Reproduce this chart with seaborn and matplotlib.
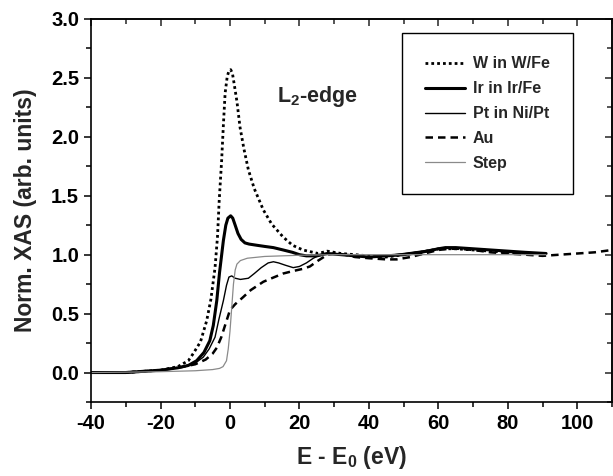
import numpy as np
import pandas as pd
import seaborn as sns
import matplotlib
matplotlib.use("Agg")
import matplotlib.pyplot as plt
from matplotlib.ticker import MultipleLocator

# --- данные ---
W_X = [-40, -30, -25, -20, -15, -12, -10.6, -8.5, -6.7, -5.5, -4.3, -3.6, -3.1, -2.4, -1.9,
       -1.4, -0.8, -0.3, 0.2, 0.7, 1.2, 2, 2.9, 4, 5.3, 7, 9.6, 12, 15.3, 18, 21, 25.4, 28,
       32, 36, 40, 45, 50, 55, 60, 65, 70, 75, 80, 85, 91]
W_Y = [0.0, 0.0, 0.01, 0.02, 0.05, 0.1, 0.16, 0.26, 0.44, 0.62, 0.89, 1.15, 1.46, 1.8, 2.1,
       2.37, 2.51, 2.56, 2.57, 2.54, 2.45, 2.3, 2.08, 1.9, 1.72, 1.56, 1.38, 1.26, 1.15, 1.08,
       1.04, 1.01, 1.03, 1.01, 1.0, 0.99, 0.98, 1.0, 1.02, 1.05, 1.05, 1.04, 1.03, 1.02, 1.01,
       1.01]

IR_X = [-40, -30, -20, -15, -12, -9.6, -7.5, -5.8, -4.8, -3.8, -3, -1.9, -1.2, -0.6, 0.2, 0.8,
        1.5, 2.3, 3.2, 4.3, 5.5, 7.7, 10, 12.5, 15.3, 18, 20, 22, 25, 28, 32, 36, 40, 45, 50,
        55, 60, 62, 65, 70, 75, 80, 85, 91]
IR_Y = [0.0, 0.0, 0.02, 0.04, 0.06, 0.1, 0.17, 0.27, 0.4, 0.61, 0.85, 1.12, 1.25, 1.31, 1.33,
        1.31, 1.25, 1.18, 1.13, 1.1, 1.09, 1.08, 1.07, 1.06, 1.04, 1.02, 1.0, 0.99, 0.99, 1.01,
        1.0, 0.99, 0.98, 0.99, 1.0, 1.02, 1.05, 1.06, 1.06, 1.05, 1.04, 1.03, 1.02, 1.01]

PT_X = [-40, -30, -20, -15, -10, -7.7, -6, -4.3, -3.2, -1.9, -1, -0.3, 0.5, 1.5, 3, 5.3, 7, 9,
        11, 12.5, 14, 16, 18.2, 20, 22, 24, 25.4, 28, 32, 36, 40, 45, 50, 55, 60, 65, 70, 75,
        80, 85, 91]
PT_Y = [0.0, 0.0, 0.02, 0.04, 0.08, 0.13, 0.2, 0.3, 0.45, 0.61, 0.74, 0.81, 0.82, 0.8, 0.79,
        0.8, 0.84, 0.89, 0.93, 0.94, 0.93, 0.91, 0.89, 0.9, 0.93, 0.97, 0.99, 1.01, 1.0, 0.99,
        0.98, 0.99, 1.01, 1.03, 1.05, 1.06, 1.05, 1.04, 1.02, 1.01, 1.01]

AU_X = [-40, -30, -20, -15, -10, -7, -5, -3.8, -2.5, -1.2, 0, 1.5, 3.8, 6, 9.6, 12, 15.3, 18,
        21, 23, 25.4, 27, 28, 30, 33, 36, 40, 45, 48, 52, 56, 60, 63, 66, 70, 75, 80, 85, 90,
        95, 100, 105, 110]
AU_Y = [0.0, 0.0, 0.02, 0.04, 0.07, 0.11, 0.16, 0.21, 0.3, 0.42, 0.53, 0.58, 0.64, 0.7, 0.77,
        0.8, 0.84, 0.86, 0.88, 0.9, 0.95, 0.98, 1.0, 1.01, 1.0, 0.98, 0.97, 0.96, 0.96, 0.98,
        1.01, 1.04, 1.05, 1.05, 1.04, 1.02, 1.01, 1.0, 0.99, 1.0, 1.01, 1.02, 1.04]

STEP_X = [-40, -30, -20, -10, -5, -3, -2, -1, -0.5, 0, 0.5, 1, 1.5, 2, 3, 5, 10, 20, 30, 50,
          70, 91]
STEP_Y = [0.0, 0.003, 0.007, 0.015, 0.025, 0.035, 0.05, 0.1, 0.2, 0.35, 0.55, 0.75, 0.87,
          0.92, 0.95, 0.97, 0.985, 0.995, 1.0, 1.0, 1.0, 1.0]

X_TICKS = [-40, -20, 0, 20, 40, 60, 80, 100]
Y_TICKS = [0.0, 0.5, 1.0, 1.5, 2.0, 2.5, 3.0]

sns.set_theme(style="ticks")
plt.rcParams['font.family'] = ['Liberation Sans', 'DejaVu Sans']
plt.rcParams['font.weight'] = 'bold'
plt.rcParams['mathtext.fontset'] = 'custom'
plt.rcParams['mathtext.bf'] = 'Liberation Sans:bold'
plt.rcParams['mathtext.rm'] = 'Liberation Sans:bold'
plt.rcParams['axes.linewidth'] = 1.2

fig = plt.figure(figsize=(6.13, 4.76), dpi=100)
ax = fig.add_axes([0.1485, 0.1555, 0.85, 0.8046])

series = [
    ("W in W/Fe", W_X, W_Y, dict(color="black", linestyle=(0, (1, 1.1)), linewidth=2.0)),
    ("Ir in Ir/Fe", IR_X, IR_Y, dict(color="black", linestyle="-", linewidth=2.2)),
    ("Pt in Ni/Pt", PT_X, PT_Y, dict(color="black", linestyle="-", linewidth=1.0)),
    ("Au", AU_X, AU_Y, dict(color="black", linestyle=(0, (3, 2)), linewidth=1.8)),
    ("Step", STEP_X, STEP_Y, dict(color="#8a8a8a", linestyle="-", linewidth=0.9)),
]
for name, xs, ys, style in series:
    df = pd.DataFrame({"x": xs, "y": ys})
    sns.lineplot(data=df, x="x", y="y", ax=ax, sort=False, estimator=None,
                 label=name, **style)

ax.set_xlim(-40, 110)
ax.set_ylim(-0.25, 3.0)
ax.set_xticks(X_TICKS)
ax.set_yticks(Y_TICKS)
ax.xaxis.set_minor_locator(MultipleLocator(10))
ax.yaxis.set_minor_locator(MultipleLocator(0.25))
ax.set_xticklabels([str(t) for t in X_TICKS])
ax.set_yticklabels([f"{t:.1f}" for t in Y_TICKS])
ax.tick_params(which='both', direction='out', width=1.1, labelsize=14.5, colors='black')
ax.tick_params(which='major', length=5)
ax.tick_params(which='minor', length=3.5)
for lab in ax.get_xticklabels() + ax.get_yticklabels():
    lab.set_fontweight('bold')

# верхняя и правая оси с засечками внутрь
top = ax.secondary_xaxis('top')
top.set_xticks(X_TICKS)
top.xaxis.set_minor_locator(MultipleLocator(10))
top.tick_params(which='both', direction='in', labeltop=False, width=1.1)
top.tick_params(which='major', length=5)
top.tick_params(which='minor', length=3.5)
right = ax.secondary_yaxis('right')
right.set_yticks(Y_TICKS)
right.yaxis.set_minor_locator(MultipleLocator(0.25))
right.tick_params(which='both', direction='in', labelright=False, width=1.1)
right.tick_params(which='major', length=5)
right.tick_params(which='minor', length=3.5)

for sp in ax.spines.values():
    sp.set_color('black')

ax.set_xlabel(r"E - E$_\mathbf{0}$ (eV)", fontsize=16.5, fontweight='bold', labelpad=8)
ax.set_ylabel("Norm. XAS (arb. units)", fontsize=16.5, fontweight='bold', labelpad=10)

ax.text(13.5, 2.34, r"L$_\mathbf{2}$-edge", fontsize=15.5, fontweight='bold',
        ha='left', va='center')

leg = ax.legend(loc='upper right', bbox_to_anchor=(0.925, 0.963), borderaxespad=0,
                fontsize=11.5, frameon=True, fancybox=False, framealpha=1,
                edgecolor='black', borderpad=1.45, labelspacing=0.62,
                handlelength=2.5, handletextpad=0.5)
leg.get_frame().set_linewidth(1.0)
for t in leg.get_texts():
    t.set_fontweight('bold')

fig.savefig("out.png", dpi=100)
